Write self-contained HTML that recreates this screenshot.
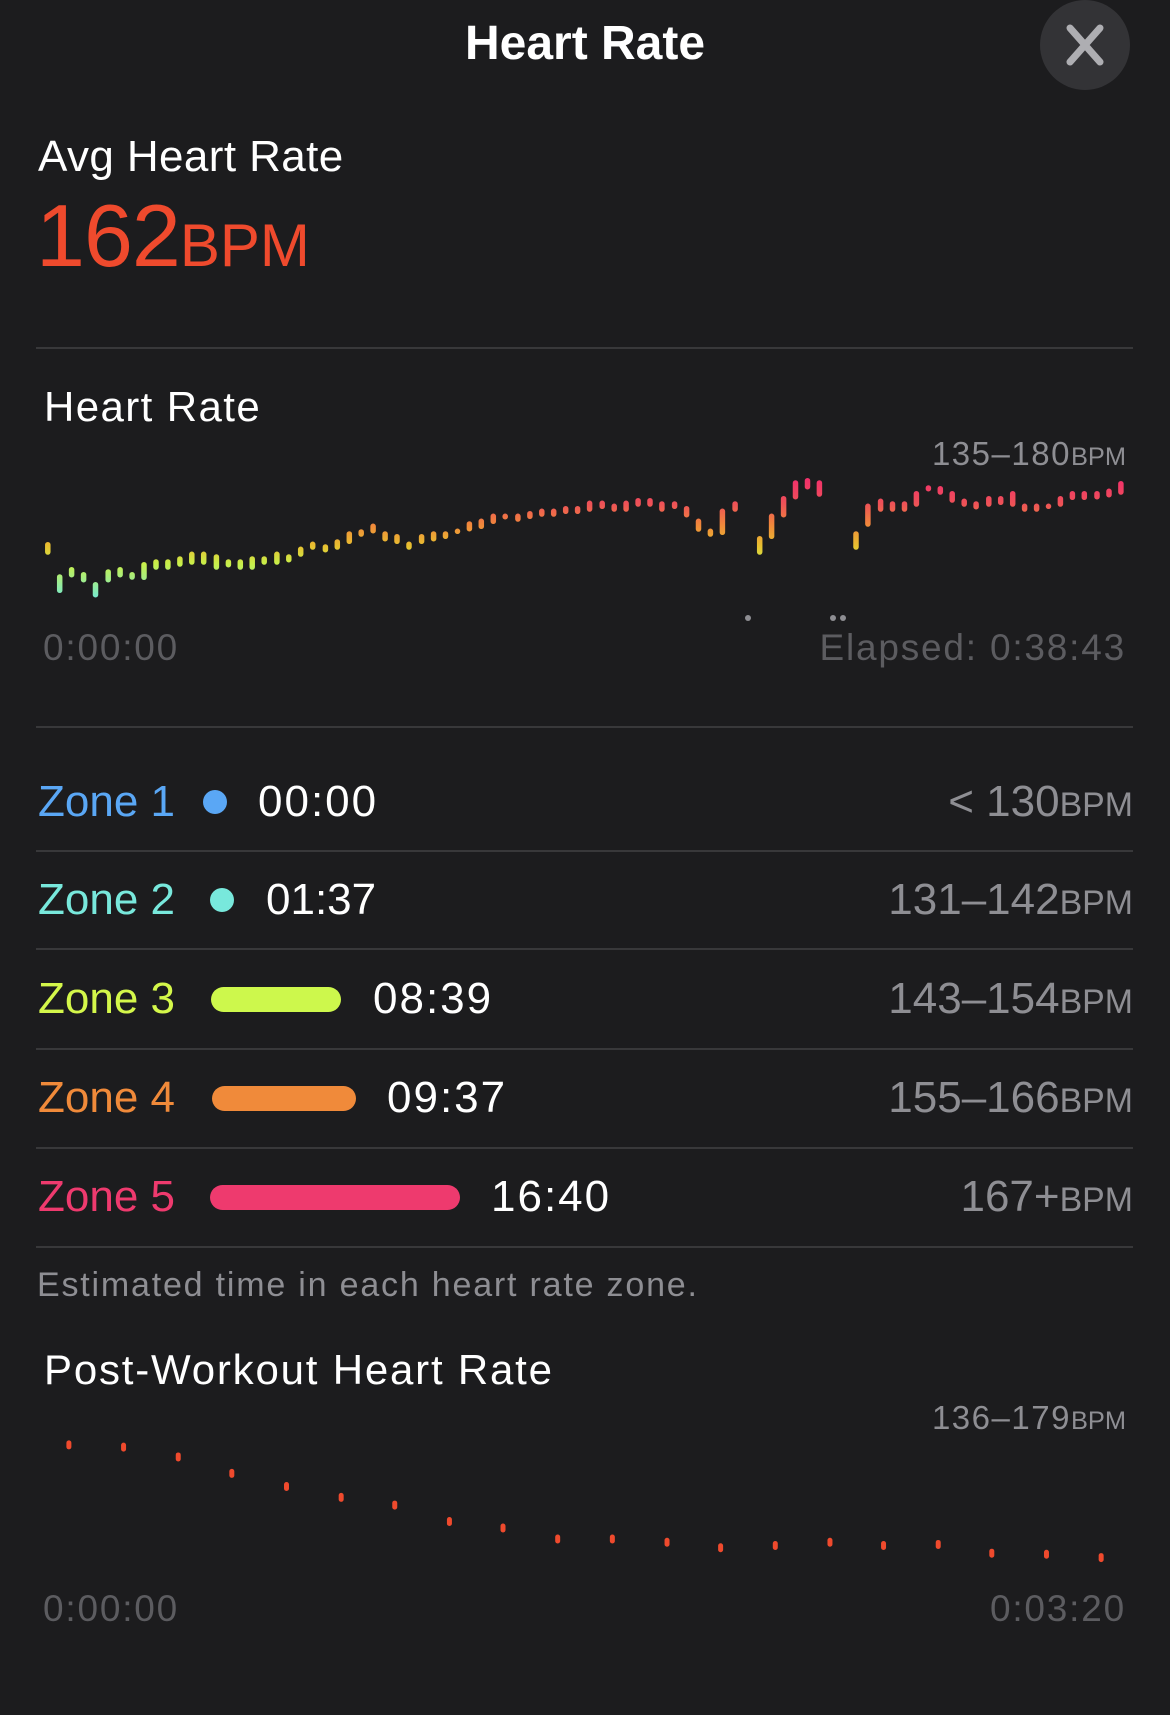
<!DOCTYPE html>
<html><head><meta charset="utf-8">
<style>
html,body{margin:0;padding:0;background:#1c1c1e;}
body{width:1170px;height:1715px;position:relative;overflow:hidden;font-family:"Liberation Sans",sans-serif;}
.t{position:absolute;line-height:1;white-space:nowrap;}
.r{text-align:right;}
.hr{position:absolute;left:36px;width:1097px;height:2px;background:#38383a;}
.g{color:#8e8e93;}
.d{color:#5c5c60;}
.sm{font-size:0.77em;letter-spacing:0;}
.tm{letter-spacing:2px;}
</style></head><body>
<div class="t" style="left:0;width:1170px;text-align:center;top:20px;font-size:48px;color:#fff;font-weight:bold;">Heart Rate</div>
<div style="position:absolute;left:1040px;top:0;width:90px;height:90px;border-radius:50%;background:#333336;"></div>
<svg style="position:absolute;left:1040px;top:0" width="90" height="90"><path d="M30 28 L60 62 M60 28 L30 62" stroke="#aeaeb2" stroke-width="7" stroke-linecap="round"/></svg>

<div class="t" style="left:38px;top:135px;font-size:44px;color:#fff;letter-spacing:0.4px;">Avg Heart Rate</div>
<div class="t" style="left:36px;top:192px;font-size:88px;color:#ef4a2d;letter-spacing:-1px;">162<span style="font-size:60px;letter-spacing:0">BPM</span></div>
<div class="hr" style="top:347px"></div>

<div class="t" style="left:44px;top:386px;font-size:42px;color:#fff;letter-spacing:1.4px;">Heart Rate</div>
<div class="t r g" style="right:44px;top:437px;font-size:33px;letter-spacing:1.5px;">135–180<span class="sm">BPM</span></div>
<svg id="ch" style="position:absolute;left:0;top:0" width="1170" height="700">
<defs><linearGradient id="gr" gradientUnits="userSpaceOnUse" x1="0" y1="480" x2="0" y2="600">
<stop offset="0" stop-color="#f2316b"/><stop offset="0.2" stop-color="#ee5257"/><stop offset="0.38" stop-color="#f08a3a"/><stop offset="0.55" stop-color="#e8c030"/><stop offset="0.7" stop-color="#c8f04a"/><stop offset="1" stop-color="#70e8d8"/></linearGradient></defs>
<g id="bars" stroke="url(#gr)" stroke-width="5.5" stroke-linecap="round"></g>
<circle cx="748" cy="618" r="3" fill="#8e8e93"/><circle cx="833" cy="618" r="3" fill="#8e8e93"/><circle cx="843" cy="618" r="3" fill="#8e8e93"/>
</svg>
<div class="t d" style="left:43px;top:629px;font-size:37px;letter-spacing:1.8px;">0:00:00</div>
<div class="t r d" style="right:44px;top:629px;font-size:37px;letter-spacing:1.8px;">Elapsed: 0:38:43</div>
<div class="hr" style="top:726px"></div>

<div class="t" style="left:38px;top:780px;font-size:44px;color:#5aa7f5;">Zone 1</div>
<div style="position:absolute;left:203px;top:790px;width:24px;height:24px;border-radius:50%;background:#5aa7f5"></div>
<div class="t tm" style="left:258px;top:780px;font-size:44px;color:#fff;">00:00</div>
<div class="t r g" style="right:37px;top:780px;font-size:44px;">&lt; 130<span class="sm">BPM</span></div>
<div class="hr" style="top:850px"></div>

<div class="t" style="left:38px;top:878px;font-size:44px;color:#78e8dc;">Zone 2</div>
<div style="position:absolute;left:210px;top:888px;width:24px;height:24px;border-radius:50%;background:#78e8dc"></div>
<div class="t" style="left:266px;top:878px;font-size:44px;color:#fff;">01:37</div>
<div class="t r g" style="right:37px;top:878px;font-size:44px;">131–142<span class="sm">BPM</span></div>
<div class="hr" style="top:948px"></div>

<div class="t" style="left:38px;top:977px;font-size:44px;color:#d4f74a;">Zone 3</div>
<div style="position:absolute;left:211px;top:987px;width:130px;height:25px;border-radius:13px;background:#cdf84c"></div>
<div class="t tm" style="left:373px;top:977px;font-size:44px;color:#fff;">08:39</div>
<div class="t r g" style="right:37px;top:977px;font-size:44px;">143–154<span class="sm">BPM</span></div>
<div class="hr" style="top:1048px"></div>

<div class="t" style="left:38px;top:1076px;font-size:44px;color:#f08a3a;">Zone 4</div>
<div style="position:absolute;left:212px;top:1086px;width:144px;height:25px;border-radius:13px;background:#f08a3a"></div>
<div class="t tm" style="left:387px;top:1076px;font-size:44px;color:#fff;">09:37</div>
<div class="t r g" style="right:37px;top:1076px;font-size:44px;">155–166<span class="sm">BPM</span></div>
<div class="hr" style="top:1147px"></div>

<div class="t" style="left:38px;top:1175px;font-size:44px;color:#ee3a6e;">Zone 5</div>
<div style="position:absolute;left:210px;top:1185px;width:250px;height:25px;border-radius:13px;background:#ee3a6e"></div>
<div class="t tm" style="left:491px;top:1175px;font-size:44px;color:#fff;">16:40</div>
<div class="t r g" style="right:37px;top:1175px;font-size:44px;">167+<span class="sm">BPM</span></div>
<div class="hr" style="top:1246px"></div>

<div class="t g" style="left:37px;top:1268px;font-size:34px;letter-spacing:1.8px;">Estimated time in each heart rate zone.</div>
<div class="t" style="left:44px;top:1349px;font-size:42px;color:#fff;letter-spacing:1.8px;">Post-Workout Heart Rate</div>
<div class="t r g" style="right:44px;top:1401px;font-size:33px;letter-spacing:1.5px;">136–179<span class="sm">BPM</span></div>
<svg id="pw" style="position:absolute;left:0;top:1400px" width="1170" height="200"></svg>
<div class="t d" style="left:43px;top:1590px;font-size:37px;letter-spacing:1.8px;">0:00:00</div>
<div class="t r d" style="right:44px;top:1590px;font-size:37px;letter-spacing:1.8px;">0:03:20</div>

<script>
var B=[[64,428,462],[80,525,577],[96,503,530],[112,518,545],[128,548,590],[145,510,545],[161,503,530],[177,518,537],[193,488,538],[209,480,507],[225,480,507],[241,471,498],[257,457,492],[273,457,492],[290,465,507],[306,480,500],[322,480,507],[338,471,507],[354,471,492],[371,457,492],[387,465,485],[403,442,468],[419,427,447],[436,435,455],[452,420,447],[468,396,430],[484,390,408],[500,373,398],[516,396,422],[532,404,430],[548,427,447],[565,404,430],[581,396,422],[597,396,415],[613,388,400],[629,366,392],[645,358,385],[661,343,370],[677,343,356],[694,343,363],[710,335,355],[726,328,348],[742,328,348],[758,320,340],[774,320,340],[790,304,333],[807,304,325],[823,313,333],[839,304,333],[855,296,318],[871,296,318],[887,306,333],[904,306,325],[920,320,350],[936,358,393],[952,388,408],[968,328,403],[985,306,333],[1018,410,462],[1034,343,415],[1050,290,350],[1066,243,296],[1082,236,266],[1098,243,288],[1147,396,447],[1163,313,378],[1180,298,333],[1196,306,333],[1212,306,333],[1228,275,318],[1244,260,270],[1260,260,282],[1276,275,306],[1292,298,318],[1308,306,326],[1325,290,318],[1341,290,313],[1357,275,318],[1373,313,333],[1389,313,333],[1405,313,325],[1421,290,318],[1437,275,298],[1453,275,298],[1470,275,296],[1486,268,290],[1502,245,282]];
var g=document.getElementById('bars'),s='';
B.forEach(function(b){var x=(b[0]/1.34).toFixed(1),y1=(400+b[1]/3+2).toFixed(1),y2=(400+b[2]/3-2).toFixed(1);s+='<line x1="'+x+'" y1="'+y1+'" x2="'+x+'" y2="'+y2+'"/>';});
g.innerHTML=s;
var P=[[63,1321],[113,1323],[163,1332],[212,1347],[262,1359],[312,1369],[361,1376],[411,1391],[460,1397],[510,1407],[560,1407],[610,1410],[659,1415],[709,1413],[759,1410],[808,1413],[858,1412],[907,1420],[957,1421],[1007,1424]],t='';
P.forEach(function(p){var x=p[0]*1.0935,y=p[1]*1.0938-1400;t+='<line x1="'+x+'" y1="'+(y-2)+'" x2="'+x+'" y2="'+(y+2)+'" stroke="#ef4a2d" stroke-width="5" stroke-linecap="round"/>';});
document.getElementById('pw').innerHTML=t;
</script>
</body></html>
